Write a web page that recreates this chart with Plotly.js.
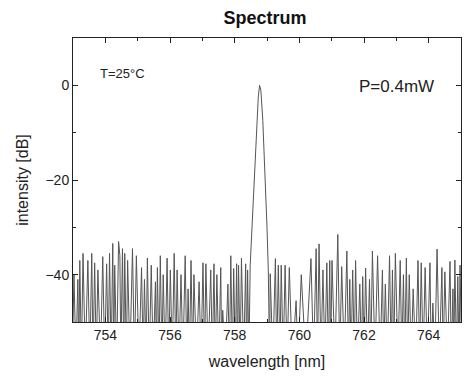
<!DOCTYPE html>
<html><head><meta charset="utf-8">
<script src="https://cdn.plot.ly/plotly-3.0.1.min.js"></script>
<style>html,body{margin:0;padding:0;background:#fff}#chart{width:467px;height:376px}</style>
</head><body><div id="chart"></div>
<script>
const wavelength = [
752.98,753.03,753.09,753.15,753.18,753.21,753.26,753.31,753.38,753.46,753.52,753.58,753.62,753.67,753.72,753.77,753.85,753.92,753.98,754.04,
754.09,754.13,754.18,754.23,754.26,754.29,754.35,754.41,754.45,754.48,754.53,754.57,754.60,754.65,754.69,754.76,754.84,754.90,754.96,755.04,
755.12,755.17,755.21,755.26,755.30,755.36,755.42,755.48,755.55,755.58,755.61,755.66,755.70,755.75,755.79,755.85,755.91,755.96,756.01,756.07,
756.13,756.18,756.22,756.28,756.34,756.40,756.47,756.52,756.56,756.60,756.65,756.70,756.74,756.82,756.90,756.96,757.02,757.07,757.11,757.18,
757.26,757.31,757.36,757.40,757.45,757.51,757.57,757.60,757.63,757.71,757.79,757.84,757.88,757.93,757.97,758.02,758.06,758.09,758.12,758.17,
758.21,758.28,758.34,758.37,758.40,758.44,
758.48,758.55,758.63,758.69,758.73,758.77,758.81,758.87,758.94,759.00,759.04,
759.08,759.10,759.18,759.26,759.30,759.35,759.40,759.44,759.50,759.56,759.62,759.69,759.78,759.90,759.96,760.06,760.20,760.36,760.44,760.52,
760.56,760.61,760.67,760.73,760.79,760.85,760.90,760.94,760.97,761.01,761.10,761.19,761.25,761.31,761.39,761.47,761.52,761.56,761.60,761.65,
761.70,761.74,761.80,761.87,761.92,761.96,762.00,762.05,762.11,762.17,762.21,762.26,762.34,762.42,762.50,762.57,762.61,762.66,762.72,762.79,
762.84,762.88,762.92,762.97,763.05,763.12,763.17,763.22,763.26,763.31,763.35,763.40,763.46,763.52,763.60,763.67,763.72,763.77,763.83,763.89,
763.96,764.04,764.08,764.13,764.19,764.26,764.33,764.41,764.45,764.50,764.58,764.66,764.70,764.75,764.78,764.81,764.86,764.90,764.94,764.97,765.02
];
const intensity = [
-58,-40,-58,-41,-58,-37,-58,-35.5,-58,-37,-58,-35.5,-58,-37.5,-58,-39,-58,-36.2,-58,-37.7,
-58,-35.5,-58,-33.4,-58,-38,-58,-33,-36,-58,-34.5,-58,-35.5,-58,-37,-58,-34.5,-58,-36,-58,
-38.5,-58,-41,-58,-36.5,-58,-38,-58,-41.5,-58,-38.5,-58,-36,-58,-40,-58,-36.5,-58,-39,-58,
-35.5,-58,-39,-58,-40,-58,-36,-58,-43,-58,-37,-58,-40,-58,-41.5,-58,-37.5,-58,-37.7,-58,
-39,-58,-37.7,-58,-40,-58,-38.5,-58,-47.5,-58,-42,-58,-36,-58,-38.7,-58,-37.7,-58,-38,-58,
-36.5,-58,-37.7,-58,-39,-58,
-38,-28,-18,-7.4,-2.5,0,-1,-7.4,-18,-30,-39,
-58,-39.8,-58,-36.6,-58,-38,-58,-38,-58,-38,-58,-38.5,-58,-45.5,-58,-40,-58,-36.6,-58,-34.5,
-58,-33.5,-58,-39,-58,-37.5,-58,-37,-58,-37,-58,-31.5,-58,-38.3,-58,-35,-58,-41,-58,-39,
-58,-37,-58,-42,-58,-40.4,-58,-38.6,-58,-41,-58,-35,-58,-36,-58,-39,-58,-42,-58,-36,
-58,-39,-58,-35.5,-58,-37,-58,-40,-58,-36.5,-58,-40,-58,-43,-58,-37,-58,-37.5,-58,-38.5,
-58,-37.5,-58,-46,-58,-34.6,-58,-38.5,-58,-39.4,-58,-37.2,-58,-43,-58,-36.9,-58,-40.4,-58,-38,-58
];
const xTickVals = [754, 756, 758, 760, 762, 764];
const yTickVals = [0, -20, -40];
const chartTitle = 'Spectrum';
const xTitle = 'wavelength [nm]';
const yTitle = 'intensity [dB]';
const noteT = 'T=25°C';
const noteP = 'P=0.4mW';

const font = 'Liberation Sans, Arial, sans-serif';
Plotly.newPlot('chart', [{
  x: wavelength, y: intensity, type: 'scatter', mode: 'lines',
  line: {color: '#555', width: 1}, hoverinfo: 'skip'
}], {
  width: 467, height: 376,
  margin: {l: 73, r: 6, t: 38, b: 54},
  paper_bgcolor: '#fff', plot_bgcolor: '#fff',
  showlegend: false,
  font: {family: font, color: '#222'},
  title: {text: '<b>' + chartTitle + '</b>', font: {size: 18, family: font, color: '#111'}, x: 0.495, xref: 'paper', y: 0.952, yref: 'container', xanchor: 'center', yanchor: 'middle'},
  xaxis: {
    range: [753, 765], tickvals: xTickVals, ticks: 'inside', ticklen: 5, tickcolor: '#222',
    minor: {dtick: 1, ticks: 'inside', ticklen: 3, tickcolor: '#222'},
    showline: true, linecolor: '#222', linewidth: 1, mirror: 'ticks', showgrid: false, zeroline: false,
    tickfont: {size: 14, family: font, color: '#222'},
    title: {text: xTitle, font: {size: 16, family: font, color: '#222'}, standoff: 14}
  },
  yaxis: {
    range: [-50, 10], tickvals: yTickVals, ticks: 'inside', ticklen: 5, tickcolor: '#222',
    minor: {dtick: 10, ticks: 'inside', ticklen: 3, tickcolor: '#222'},
    showline: true, linecolor: '#222', linewidth: 1, mirror: 'ticks', showgrid: false, zeroline: false,
    tickfont: {size: 14, family: font, color: '#222'},
    title: {text: yTitle, font: {size: 16, family: font, color: '#222'}, standoff: 12}
  },
  annotations: [
    {text: noteT, xref: 'paper', yref: 'paper', x: 0.065, y: 0.875, xanchor: 'left', yanchor: 'middle', showarrow: false, font: {size: 13, family: font, color: '#222'}},
    {text: noteP, xref: 'paper', yref: 'paper', x: 0.935, y: 0.83, xanchor: 'right', yanchor: 'middle', showarrow: false, font: {size: 17, family: font, color: '#222'}}
  ]
}, {displayModeBar: false, staticPlot: true});
</script></body></html>
